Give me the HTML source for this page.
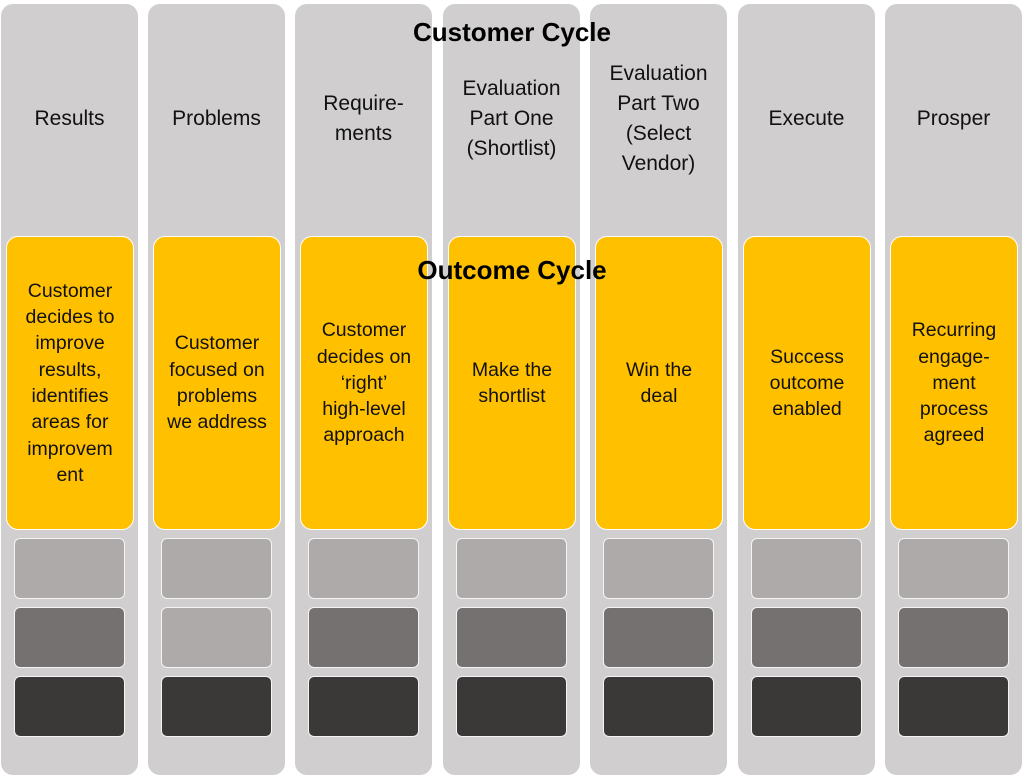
<!DOCTYPE html>
<html><head><style>
body{margin:0;width:1024px;height:776px;background:#fff;position:relative;overflow:hidden;font-family:"Liberation Sans",sans-serif;}
.col{position:absolute;top:4px;width:137px;height:771px;background:#d0cecf;border-radius:12px;}
.hd{position:absolute;left:0;width:137px;text-align:center;font-size:21px;line-height:30px;color:#111;white-space:nowrap;}
.y{position:absolute;left:5px;top:232px;width:128px;height:294px;background:#ffc000;border:1.5px solid #fff;border-radius:12px;display:flex;align-items:center;justify-content:center;text-align:center;font-size:19.5px;line-height:26.3px;color:#111;box-sizing:border-box;white-space:nowrap;}
.b{position:absolute;left:13px;width:111px;height:61px;border:1.5px solid #f4f4f4;border-radius:6px;box-sizing:border-box;}
.l{background:#aeaaaa}.m{background:#757171}.d{background:#3b3838}
.t{position:absolute;left:0;width:1024px;text-align:center;font-weight:bold;font-size:26px;color:#000;}
</style></head><body>
<div class="col" style="left:1px"><div class="hd" style="top:100px">Results</div><div class="y">Customer<br>decides to<br>improve<br>results,<br>identifies<br>areas for<br>improvem<br>ent</div><div class="b l" style="top:534px"></div><div class="b m" style="top:603px"></div><div class="b d" style="top:672px"></div></div>
<div class="col" style="left:148px"><div class="hd" style="top:100px">Problems</div><div class="y">Customer<br>focused on<br>problems<br>we address</div><div class="b l" style="top:534px"></div><div class="b l" style="top:603px"></div><div class="b d" style="top:672px"></div></div>
<div class="col" style="left:295px"><div class="hd" style="top:85px">Require-<br>ments</div><div class="y">Customer<br>decides on<br>‘right’<br>high-level<br>approach</div><div class="b l" style="top:534px"></div><div class="b m" style="top:603px"></div><div class="b d" style="top:672px"></div></div>
<div class="col" style="left:443px"><div class="hd" style="top:70px">Evaluation<br>Part One<br>(Shortlist)</div><div class="y">Make the<br>shortlist</div><div class="b l" style="top:534px"></div><div class="b m" style="top:603px"></div><div class="b d" style="top:672px"></div></div>
<div class="col" style="left:590px"><div class="hd" style="top:55px">Evaluation<br>Part Two<br>(Select<br>Vendor)</div><div class="y">Win the<br>deal</div><div class="b l" style="top:534px"></div><div class="b m" style="top:603px"></div><div class="b d" style="top:672px"></div></div>
<div class="col" style="left:738px"><div class="hd" style="top:100px">Execute</div><div class="y">Success<br>outcome<br>enabled</div><div class="b l" style="top:534px"></div><div class="b m" style="top:603px"></div><div class="b d" style="top:672px"></div></div>
<div class="col" style="left:885px"><div class="hd" style="top:100px">Prosper</div><div class="y">Recurring<br>engage-<br>ment<br>process<br>agreed</div><div class="b l" style="top:534px"></div><div class="b m" style="top:603px"></div><div class="b d" style="top:672px"></div></div>
<div class="t" style="top:17px">Customer Cycle</div>
<div class="t" style="top:255px">Outcome Cycle</div>
</body></html>
